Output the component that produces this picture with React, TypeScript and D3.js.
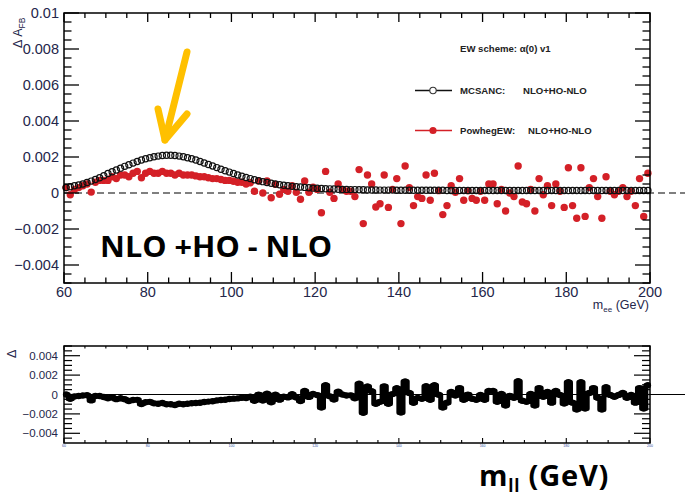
import React from "react";
import * as d3 from "d3";

// ---- data (1 GeV bins, 60..199) ----
const binLow: number[] = d3.range(60, 200, 1);

const mcsanc: number[] = [
  0.0003, 0.00035, 0.0004, 0.00045, 0.0005, 0.00058, 0.00066, 0.00075, 0.00085, 0.00096,
  0.00108, 0.00118, 0.00128, 0.00138, 0.00148, 0.00157, 0.00166, 0.00175, 0.00183, 0.0019,
  0.00196, 0.00201, 0.00205, 0.00208, 0.0021, 0.0021, 0.00208, 0.00205, 0.00201, 0.00196,
  0.0019, 0.00183, 0.00175, 0.00167, 0.00158, 0.0015, 0.00141, 0.00132, 0.00124, 0.00116,
  0.00108, 0.001, 0.00093, 0.00086, 0.0008, 0.00074, 0.00068, 0.00063, 0.00058, 0.00054,
  0.0005, 0.00046, 0.00043, 0.0004, 0.00037, 0.00035, 0.00033, 0.00031, 0.00029, 0.00027,
  0.00026, 0.00025, 0.00024, 0.00023, 0.00022, 0.00021, 0.0002, 0.0002, 0.00019, 0.00019,
  0.00018, 0.00018, 0.00017, 0.00017, 0.00017, 0.00016, 0.00016, 0.00016, 0.00016, 0.00015,
  0.00015, 0.00015, 0.00015, 0.00015, 0.00015, 0.00015, 0.00015, 0.00015, 0.00015, 0.00015,
  0.00015, 0.00014, 0.00014, 0.00014, 0.00014, 0.00014, 0.00014, 0.00014, 0.00014, 0.00014,
  0.00014, 0.00014, 0.00014, 0.00014, 0.00014, 0.00014, 0.00014, 0.00014, 0.00014, 0.00014,
  0.00014, 0.00014, 0.00014, 0.00014, 0.00014, 0.00014, 0.00014, 0.00014, 0.00014, 0.00014,
  0.00014, 0.00014, 0.00014, 0.00014, 0.00014, 0.00014, 0.00014, 0.00014, 0.00014, 0.00014,
  0.00014, 0.00014, 0.00014, 0.00014, 0.00014, 0.00014, 0.00014, 0.00014, 0.00014, 0.00014,
];

const powheg: number[] = [
  0.0003, -0.0001, 0.0002, 0.0003, 0.0004, 0.0005, 0.00005, 0.0006, 0.0007, 0.0007,
  0.0007, 0.0009, 0.0008, 0.001, 0.001, 0.0009, 0.0011, 0.0012, 0.00085, 0.0011,
  0.0012, 0.0011, 0.0011, 0.0012, 0.0011, 0.0011, 0.001, 0.0011, 0.001, 0.001,
  0.001, 0.00095, 0.0009, 0.0009, 0.00085, 0.0008, 0.0008, 0.00075, 0.0007, 0.0007,
  0.00065, 0.0006, 0.0006, 0.0005, 0.00057, 0.0001, 0.00067, 0.0, 0.00067, -0.00026,
  0.00048, -0.00007, 0.0002, 0.0001, 0.0004, 0.00004, -0.00035, 0.00067, 0.00004, 0.00032,
  0.0002, -0.0011, 0.0012, 0.00004, -0.0003, 0.0005, 0.0002, 0.0001, 0.0001, -0.0002,
  0.0013, -0.0017, 0.001, 0.0005, -0.00078, -0.0006, 0.001, -0.0008, 0.0002, 0.0008,
  -0.0017, 0.0015, 0.0003, -0.0007, -0.0002, -0.0003, 0.001, -0.0004, 0.0011, 0.00013,
  -0.0012, -0.0007, 0.0004, 0.00004, 0.0008, -0.0004, 0.00013, -0.0003, -0.0004, 0.0001,
  -0.0004, 0.0005, 0.0005, -0.0006, 0.0002, -0.001, 0.0, -0.0002, 0.0015, -0.0005,
  -0.0006, 0.0002, -0.001, 0.0008, -0.0001, 0.0004, -0.0007, 0.0005, 0.0001, -0.0008,
  0.0014, -0.0007, -0.0014, 0.0014, -0.0013, 0.0003, 0.0008, -0.0002, -0.0014, 0.0009,
  0.0001, -0.0001, 0.0001, 0.0003, -0.0002, 0.0001, -0.0007, 0.0008, -0.0013, 0.0011,
];

const xTickValues: number[] = [60, 80, 100, 120, 140, 160, 180, 200];
const xTickLabels: string[] = ["60", "80", "100", "120", "140", "160", "180", "200"];
const yTopTickValues: number[] = [0.01, 0.008, 0.006, 0.004, 0.002, 0, -0.002, -0.004];
const yTopTickLabels: string[] = ["0.01", "0.008", "0.006", "0.004", "0.002", "0", "\u22120.002", "\u22120.004"];
const yBotTickValues: number[] = [0.004, 0.002, 0, -0.002, -0.004];
const yBotTickLabels: string[] = ["0.004", "0.002", "0", "\u22120.002", "\u22120.004"];

const W = 685;
const H = 498;
const FONT = "'Liberation Sans', Arial, Helvetica, sans-serif";
const LABEL_COLOR = "#24264a";
const RED = "#d42027";

export default function App() {
  const L = 64, R = 650;
  const x = d3.scaleLinear().domain([60, 200]).range([L, R]);
  const yT = d3.scaleLinear().domain([-0.005, 0.01]).range([283, 13]);
  const yB = d3.scaleLinear().domain([-0.005, 0.005]).range([443, 346]);

  const centers = binLow.map((b) => b + 0.5);
  const delta = powheg.map((v, i) => v - mcsanc[i]);

  const xMinor = d3.range(60, 200.01, 5);
  const yTopMinor = d3.range(-0.005, 0.01001, 0.0005);
  const yBotMinor = d3.range(-0.0045, 0.0050001, 0.0005);

  const deltaLine = d3
    .line<number>()
    .x((_, i) => x(centers[i]))
    .y((d) => yB(d))
    .curve(d3.curveStep);

  const frame = (top: number, bot: number) => (
    <rect x={L} y={top} width={R - L} height={bot - top} fill="none" stroke="#000" strokeWidth={1.5} />
  );

  const legendFont = 9.6;

  return (
    <svg width={W} height={H} style={{ position: "absolute", left: 0, top: 0, background: "#fff" }}>
      <rect x={0} y={0} width={W} height={H} fill="#fff" />

      {/* ===== TOP PANEL ===== */}
      <line x1={L} x2={W} y1={yT(0)} y2={yT(0)} stroke="#000" strokeWidth={1.2} strokeDasharray="7,4" />

      {powheg.map((v, i) => (
        <circle key={"r" + i} cx={x(centers[i])} cy={yT(v)} r={3.7} fill={RED} />
      ))}
      {mcsanc.map((v, i) => (
        <circle key={"b" + i} cx={x(centers[i])} cy={yT(v)} r={3.1} fill="none" stroke="#111" strokeWidth={1.2} />
      ))}

      {frame(13, 283)}
      {yTopMinor.map((v, i) => {
        const major = yTopTickValues.some((t) => Math.abs(t - v) < 1e-9);
        const len = major ? 15 : 7.5;
        return (
          <g key={"ytm" + i}>
            <line x1={L} x2={L + len} y1={yT(v)} y2={yT(v)} stroke="#000" strokeWidth={1.3} />
            <line x1={R} x2={R - len} y1={yT(v)} y2={yT(v)} stroke="#000" strokeWidth={1.3} />
          </g>
        );
      })}
      {xMinor.map((v, i) => {
        const major = xTickValues.includes(v);
        return (
          <g key={"xtm" + i}>
            <line x1={x(v)} x2={x(v)} y1={283} y2={283 - (major ? 11 : 5.5)} stroke="#000" strokeWidth={1.3} />
            <line x1={x(v)} x2={x(v)} y1={13} y2={13 + (major ? 9 : 5)} stroke="#000" strokeWidth={1.3} />
          </g>
        );
      })}
      {yTopTickValues.map((v, i) => (
        <text key={"ytl" + i} x={59} y={yT(v)} dy="0.36em" textAnchor="end" fontFamily={FONT} fontSize={14.5} fill={LABEL_COLOR}>
          {yTopTickLabels[i]}
        </text>
      ))}
      {xTickValues.map((v, i) => (
        <text key={"xtl" + i} x={x(v)} y={297} textAnchor="middle" fontFamily={FONT} fontSize={14.5} fill={LABEL_COLOR}>
          {xTickLabels[i]}
        </text>
      ))}
      <text x={649} y={309} textAnchor="end" fontFamily={FONT} fontSize={12.5} fill={LABEL_COLOR}>
        m<tspan fontSize={8} dy={3}>ee</tspan>
        <tspan dy={-3}> (GeV)</tspan>
      </text>
      <text transform="translate(22,48) rotate(-90)" fontFamily={FONT} fontSize={12.5} fill={LABEL_COLOR}>
        Δ A<tspan fontSize={8.5} dy={3}>FB</tspan>
      </text>

      {/* legend */}
      <text x={460} y={51.5} fontFamily={FONT} fontSize={legendFont} fontWeight="bold" fill="#222">
        EW scheme: α(0) v1
      </text>
      <line x1={415} x2={452} y1={90.5} y2={90.5} stroke="#111" strokeWidth={1.3} />
      <circle cx={433} cy={90.5} r={3.2} fill="#fff" stroke="#333" strokeWidth={1.1} />
      <text x={460} y={94} fontFamily={FONT} fontSize={legendFont} fontWeight="bold" fill="#222">
        MCSANC:
      </text>
      <text x={523} y={94} fontFamily={FONT} fontSize={legendFont} fontWeight="bold" fill="#222">
        NLO+HO-NLO
      </text>
      <line x1={415} x2={452} y1={130.5} y2={130.5} stroke={RED} strokeWidth={1.3} />
      <circle cx={433} cy={130.5} r={3.6} fill={RED} />
      <text x={460} y={134} fontFamily={FONT} fontSize={legendFont} fontWeight="bold" fill="#222">
        PowhegEW:
      </text>
      <text x={528} y={134} fontFamily={FONT} fontSize={legendFont} fontWeight="bold" fill="#222">
        NLO+HO-NLO
      </text>

      {/* annotation arrow */}
      <g stroke="#ffc000" strokeWidth={7} strokeLinecap="round" strokeLinejoin="round" fill="none">
        <line x1={187} y1={52} x2={165} y2={140} />
        <polyline points="158,109 165,140 187,114" />
      </g>

      <text x={100} y={257} fontFamily="'Open Sans', Lato, sans-serif" fontWeight="bold" fontSize={28.5} fill="#000" textLength={232} lengthAdjust="spacingAndGlyphs">
        NLO +HO - NLO
      </text>

      {/* ===== BOTTOM PANEL ===== */}
      <line x1={L} x2={W} y1={yB(0)} y2={yB(0)} stroke="#000" strokeWidth={1.2} />
      <path d={deltaLine(delta) || ""} fill="none" stroke="#000" strokeWidth={5} strokeLinejoin="round" strokeLinecap="round" />
      {delta.map((v, i) => (
        <circle key={"d" + i} cx={x(centers[i])} cy={yB(v)} r={3.2} fill="#000" />
      ))}
      {frame(346, 443)}
      {yBotMinor.map((v, i) => {
        const major = yBotTickValues.some((t) => Math.abs(t - v) < 1e-9);
        const len = major ? 16 : 8;
        return (
          <g key={"ybm" + i}>
            <line x1={L} x2={L + len} y1={yB(v)} y2={yB(v)} stroke="#000" strokeWidth={1.2} />
            <line x1={R} x2={R - len} y1={yB(v)} y2={yB(v)} stroke="#000" strokeWidth={1.2} />
          </g>
        );
      })}
      {xMinor.map((v, i) => {
        const major = xTickValues.includes(v);
        return (
          <g key={"xbm" + i}>
            <line x1={x(v)} x2={x(v)} y1={443} y2={443 - (major ? 5 : 3)} stroke="#000" strokeWidth={1.1} />
            <line x1={x(v)} x2={x(v)} y1={346} y2={346 + (major ? 4 : 2.5)} stroke="#000" strokeWidth={1.1} />
          </g>
        );
      })}
      {yBotTickValues.map((v, i) => (
        <text key={"ybl" + i} x={58} y={yB(v)} dy="0.36em" textAnchor="end" fontFamily={FONT} fontSize={11.5} fill={LABEL_COLOR}>
          {yBotTickLabels[i]}
        </text>
      ))}
      {xTickValues.map((v, i) => (
        <text key={"xbl" + i} x={x(v)} y={447} textAnchor="middle" fontFamily={FONT} fontSize={3.5} fill="#3050a0">
          {xTickLabels[i]}
        </text>
      ))}
      <text transform="translate(16,358) rotate(-90)" fontFamily={FONT} fontSize={12.5} fill={LABEL_COLOR}>
        Δ
      </text>

      {/* bottom big axis label */}
      <text x={479} y={486} fontFamily="'Open Sans', Lato, sans-serif" fontWeight="bold" fontSize={29} letterSpacing={0.8} fill="#000">
        m<tspan fontSize={17} dy={6}>ll</tspan>
        <tspan dy={-6}> (GeV)</tspan>
      </text>
    </svg>
  );
}
